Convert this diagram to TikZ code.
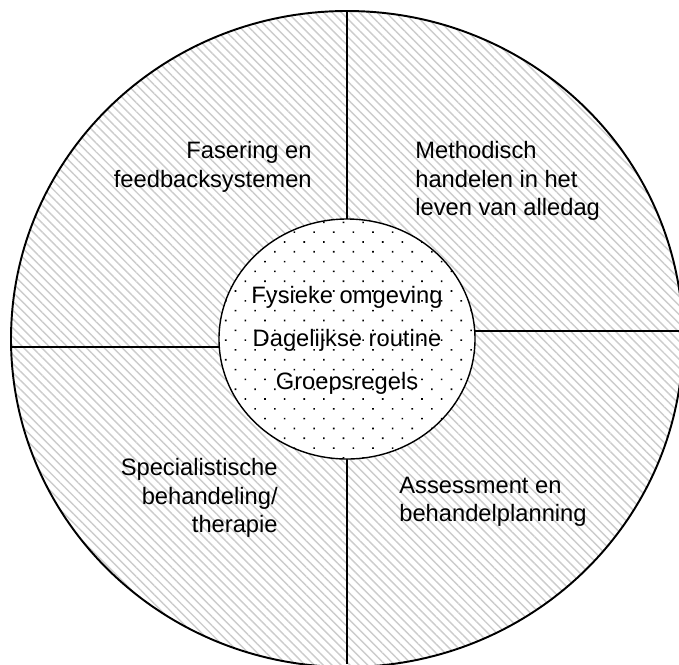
\documentclass[tikz,border=0pt]{standalone}
\usepackage{fontspec}
\setmainfont{Liberation Sans}
\usetikzlibrary{patterns.meta}
\tikzset{
  hatch/.style={pattern={Lines[angle=-45,distance=3.6pt,line width=0.8pt]},pattern color=gray!40},
  speckle/.style={pattern={Dots[angle=45,distance=7.9pt,radius=0.65pt]},pattern color=black},
  ringtext/.style={inner sep=0pt,font=\fontsize{13.5}{16.2}\selectfont},
  divider/.style={line width=0.8pt},
}
\begin{document}
\begin{tikzpicture}[x=0.02cm,y=-0.02cm]
  \useasboundingbox (0,0) rectangle (679,664);
  \clip (0,0) rectangle (679,664);
  \coordinate (mid) at (347,339);
  % outer ring
  \fill[white] (mid) ellipse [x radius=336,y radius=328];
  \path[hatch] (mid) ellipse [x radius=336,y radius=328];
  \begin{scope}
    \clip (mid) ellipse [x radius=336,y radius=328];
    \draw[divider] (347,0)--(347,664);
    \draw[divider] (0,347)--(347,347);
    \draw[divider] (347,331)--(679,331);
  \end{scope}
  \draw[line width=1.1pt] (mid) ellipse [x radius=336,y radius=328];
  % inner disc
  \fill[white] (mid) ellipse [x radius=128,y radius=120];
  \path[speckle] (mid) ellipse [x radius=128,y radius=120];
  \draw[divider] (mid) ellipse [x radius=128,y radius=120];
  % quadrant texts
  \node[ringtext,anchor=east,align=right] (fasering) at (312,167) {Fasering en\\feedbacksystemen};
  \node[ringtext,anchor=west,align=left] (methodisch) at (415,181) {Methodisch\\handelen in het\\leven van alledag};
  \node[ringtext,anchor=east,align=right] (specialist) at (278,498) {Specialistische\\behandeling/\\therapie};
  \node[ringtext,anchor=west,align=left] (assessment) at (399,502) {Assessment en\\behandelplanning};
  % centre texts
  \node[ringtext] (fysiek) at (347,297) {Fysieke omgeving};
  \node[ringtext] (dagelijks) at (347,340) {Dagelijkse routine};
  \node[ringtext] (groep) at (347,383) {Groepsregels};
\end{tikzpicture}
\end{document}
